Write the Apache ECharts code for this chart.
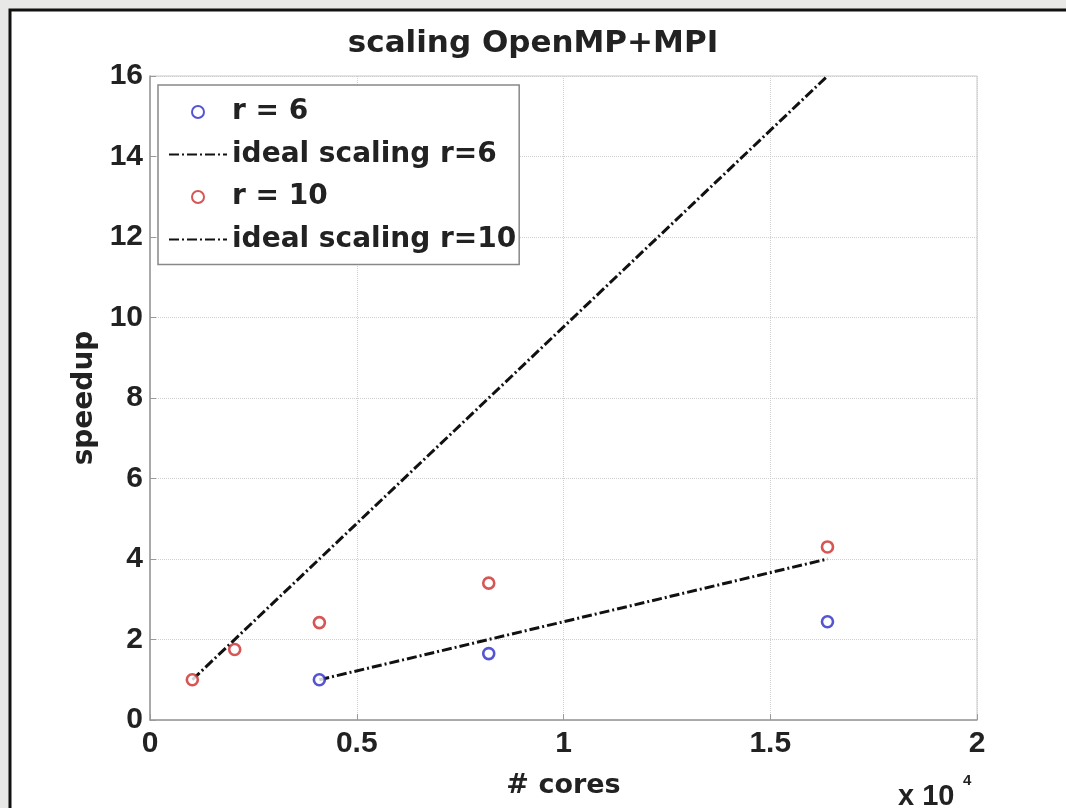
<!DOCTYPE html>
<html>
<head>
<meta charset="utf-8">
<script src="https://cdn.jsdelivr.net/npm/echarts@6/dist/echarts.min.js"></script>
<style>
  html, body { margin: 0; padding: 0; background: #e8e8e6; }
  #main { width: 1066px; height: 808px; }
</style>
</head>
<body>
<div id="main"></div>
<script>
// cores and measured speedup
const cores6 = [4096, 8192, 16384];
const speedup6 = [1.0, 1.65, 2.44];
const cores10 = [1024, 2048, 4096, 8192, 16384];
const speedup10 = [1.0, 1.75, 2.42, 3.4, 4.3];
// ideal scaling lines
const idealCores6 = [4096, 16384];
const ideal6 = [1, 4];
const idealCores10 = [1024, 16384];
const ideal10 = [1, 16];

const pairs = (xs, ys) => xs.map((x, i) => [x, ys[i]]);

const tickFont = 'Liberation Sans, Arial, sans-serif';
const textFont = 'DejaVu Sans, sans-serif';
const dash = [10, 3, 2, 3];
const noDot = { color: 'rgba(0,0,0,0)', borderColor: 'rgba(0,0,0,0)', borderWidth: 0 };

const chart = echarts.init(document.getElementById('main'));
const option = {
  animation: false,
  textStyle: { fontFamily: tickFont },
  graphic: [
    {
      type: 'rect', z: -10,
      shape: { x: 10, y: 10, width: 1070, height: 810 },
      style: { fill: '#fff', stroke: '#111', lineWidth: 3 }
    },
    {
      type: 'text', left: 898, top: 782,
      style: { text: 'x 10', fontSize: 29, fontWeight: 'bold', fontFamily: tickFont, fill: '#222' }
    },
    {
      type: 'text', left: 963, top: 773,
      style: { text: '4', fontSize: 15, fontWeight: 'bold', fontFamily: tickFont, fill: '#222' }
    }
  ],
  title: {
    text: 'scaling OpenMP+MPI',
    left: 'center', top: 23,
    textStyle: { fontSize: 31, fontWeight: 'bold', color: '#222', fontFamily: textFont }
  },
  legend: {
    orient: 'vertical',
    left: 158, top: 85,
    padding: [13, 3, 11, 10],
    itemGap: 14.5,
    itemWidth: 58, itemHeight: 12,
    backgroundColor: '#fff',
    borderColor: '#888', borderWidth: 1.5,
    textStyle: { fontSize: 28, fontWeight: 'bold', color: '#222', fontFamily: textFont },
    data: [
      'r = 6',
      { name: 'ideal scaling r=6', itemStyle: noDot },
      'r = 10',
      { name: 'ideal scaling r=10', itemStyle: noDot }
    ]
  },
  grid: {
    left: 150, top: 76, width: 827, height: 644,
    show: true, borderColor: '#c8c8c8', borderWidth: 1
  },
  xAxis: {
    type: 'value', min: 0, max: 20000, interval: 5000,
    name: '# cores', nameLocation: 'middle', nameGap: 52,
    nameTextStyle: { fontSize: 27, fontWeight: 'bold', color: '#222', fontFamily: textFont },
    axisLine: { show: true, lineStyle: { color: '#999', width: 1.5 } },
    axisTick: { show: true, inside: true, length: 6, lineStyle: { color: '#999' } },
    axisLabel: {
      fontSize: 30, fontWeight: 'bold', color: '#222', margin: 9,
      formatter: v => String(v / 10000)
    },
    splitLine: { show: true, lineStyle: { color: '#d0d0d0', type: 'dotted' } }
  },
  yAxis: {
    type: 'value', min: 0, max: 16, interval: 2,
    name: 'speedup', nameLocation: 'middle', nameGap: 51, nameRotate: 90,
    nameTextStyle: { fontSize: 28, fontWeight: 'bold', color: '#222', fontFamily: textFont },
    axisLine: { show: true, lineStyle: { color: '#999', width: 1.5 } },
    axisTick: { show: true, inside: true, length: 6, lineStyle: { color: '#999' } },
    axisLabel: { fontSize: 30, fontWeight: 'bold', color: '#222', margin: 7 },
    splitLine: { show: true, lineStyle: { color: '#d0d0d0', type: 'dotted' } }
  },
  series: [
    {
      name: 'r = 6', type: 'scatter', symbol: 'circle', symbolSize: 11,
      itemStyle: { color: '#fff', borderColor: '#2a2ac8', borderWidth: 2.6 },
      data: pairs(cores6, speedup6), z: 5
    },
    {
      name: 'ideal scaling r=6', type: 'line', showSymbol: false, symbol: 'none',
      lineStyle: { color: '#111', width: 3, type: dash },
      itemStyle: { color: '#111' },
      data: pairs(idealCores6, ideal6)
    },
    {
      name: 'r = 10', type: 'scatter', symbol: 'circle', symbolSize: 11,
      itemStyle: { color: '#fff', borderColor: '#cc2a2a', borderWidth: 2.6 },
      data: pairs(cores10, speedup10), z: 5
    },
    {
      name: 'ideal scaling r=10', type: 'line', showSymbol: false, symbol: 'none',
      lineStyle: { color: '#111', width: 3, type: dash },
      itemStyle: { color: '#111' },
      data: pairs(idealCores10, ideal10)
    }
  ]
};
chart.setOption(option);
</script>
</body>
</html>
